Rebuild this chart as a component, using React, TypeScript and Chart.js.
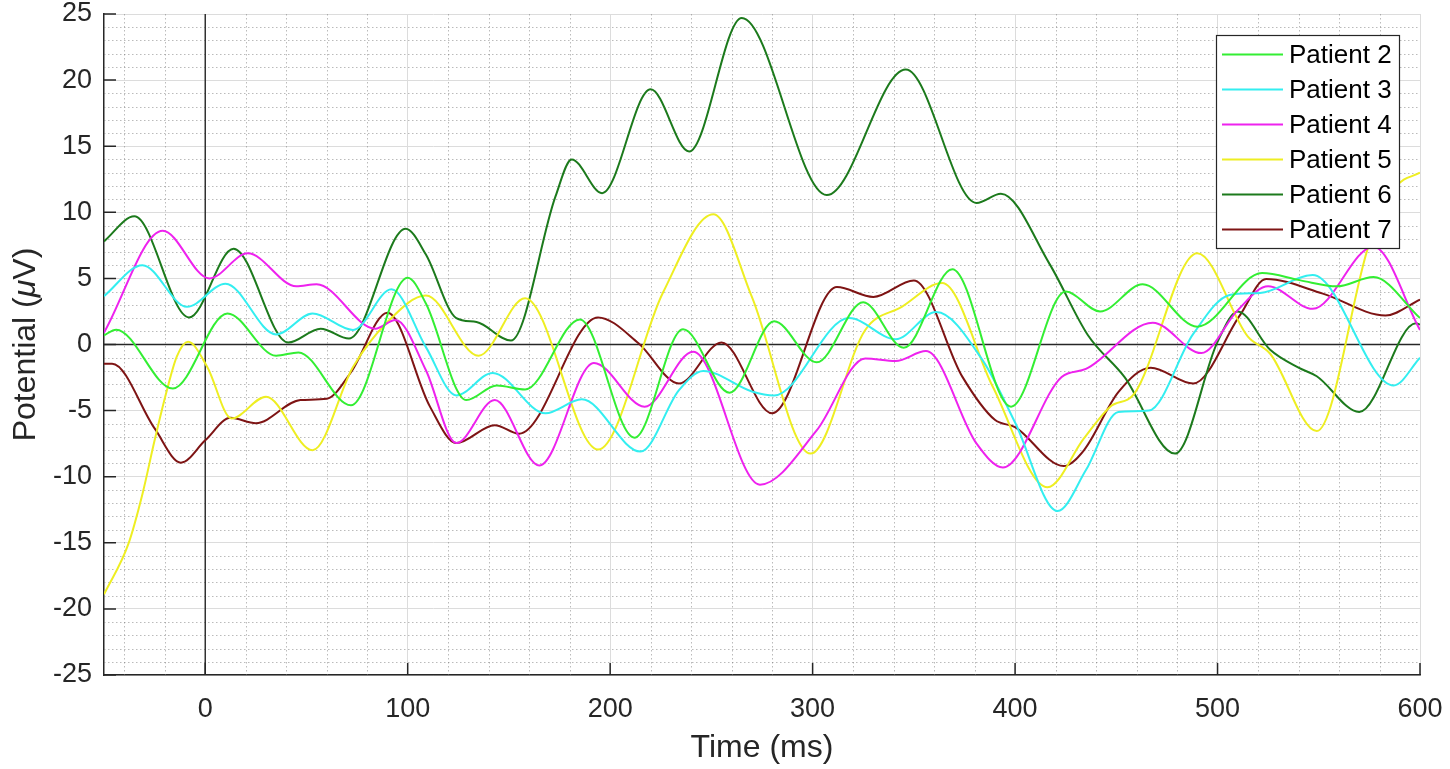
import React, { useEffect, useRef } from "react";
import { Chart, registerables } from "chart.js";

Chart.register(...registerables);

const FONT = '"Liberation Sans", Arial, Helvetica, sans-serif';

const seriesLabels = ["Patient 2", "Patient 3", "Patient 4", "Patient 5", "Patient 6", "Patient 7"];
const seriesColors = ["#33ee33", "#33eef0", "#ee22ee", "#eeee22", "#1c7a1c", "#7e1414"];

const xTicks = [0, 100, 200, 300, 400, 500, 600];
const X_MIN = -50;
const X_MAX = 600;
const Y_MIN = -25;
const Y_MAX = 25;
const Y_STEP = 5;
const X_MINOR_STEP = 20;
const Y_MINOR_STEP = 1;
const xTitle = "Time (ms)";
const yTitleParts = [
  { text: "Potential (", italic: false },
  { text: "μ", italic: true },
  { text: "V)", italic: false },
];

// [time (ms), potential (µV)]
const patient2: [number, number][] = [
  [-50, 0.7], [-44, 1.12], [-16, -3.33], [11, 2.35], [35, -0.85], [46, -0.6], [72, -4.6], [100, 5.05],
  [109, 3.1], [129, -4.2], [144, -3.1], [158, -3.4], [185, 1.9], [212, -7.05], [236, 1.15], [259, -3.65],
  [281, 1.75], [302, -1.35], [325, 3.2], [345, -0.25], [369, 5.7], [398, -4.7], [425, 4.0], [442, 2.5],
  [463, 4.55], [490, 1.35], [522, 5.4], [541, 4.85], [559, 4.4], [577, 5.1], [600, 2.0],
];

const patient3: [number, number][] = [
  [-50, 3.66], [-31, 6.0], [-9, 2.85], [10, 4.6], [35, 0.76], [53, 2.35], [73, 1.1], [92, 4.17],
  [109, -0.2], [124, -3.85], [142, -2.15], [168, -5.2], [186, -4.15], [215, -8.1], [234, -3.45], [246, -2.0],
  [270, -3.55], [281, -3.85], [318, 2.0], [341, 0.4], [361, 2.45], [384, -1.2], [400, -5.9], [421, -12.6],
  [435, -9.5], [451, -5.1], [466, -5.0], [488, 0.8], [506, 3.75], [521, 3.9], [547, 5.25], [587, -3.1], [600, -1.0],
];

const patient4: [number, number][] = [
  [-50, 0.9], [-21, 8.6], [2, 5.0], [21, 6.9], [45, 4.4], [55, 4.55], [84, 1.2], [94, 1.85],
  [109, -1.95], [124, -7.45], [143, -4.2], [165, -9.15], [192, -1.4], [217, -4.7], [241, -0.55], [274, -10.6],
  [302, -6.5], [326, -1.05], [341, -1.25], [356, -0.5], [381, -7.5], [394, -9.3], [423, -2.45], [435, -1.85],
  [468, 1.65], [492, -0.65], [510, 2.6], [525, 4.4], [547, 2.7], [577, 7.4], [600, 1.1],
];

const patient5: [number, number][] = [
  [-50, -18.9], [-38, -15.1], [-31, -11.3], [-25, -7.25], [-19, -3.5], [-14, -0.9], [-8.5, 0.2], [1, -1.7],
  [13, -5.6], [30, -3.95], [53, -8.0], [73, -1.7], [90, 1.7], [109, 3.7], [135, -0.85], [158, 3.5],
  [194, -7.95], [226, 3.9], [251, 9.85], [270, 3.6], [299, -8.25], [326, 1.1], [344, 2.85], [364, 4.65],
  [389, -3.2], [416, -10.8], [434, -7.1], [447, -4.7], [459, -3.7], [490, 6.9], [515, 0.6], [526, -0.7],
  [549, -6.55], [575, 7.65], [588, 11.9], [600, 13.0],
];

const patient6: [number, number][] = [
  [-50, 7.8], [-35, 9.7], [-8, 2.05], [14, 7.25], [41, 0.15], [57, 1.2], [71, 0.45], [99, 8.75],
  [109, 6.8], [124, 2.0], [134, 1.7], [151, 0.3], [173, 11.2], [181, 14.0], [196, 11.45], [220, 19.3],
  [239, 14.6], [265, 24.7], [307, 11.3], [346, 20.8], [381, 10.7], [393, 11.4], [417, 6.1], [436, 0.7],
  [454, -2.45], [479, -8.25], [500, 0.2], [510, 2.5], [526, -0.4], [540, -1.75], [549, -2.4], [570, -5.1],
  [598, 1.6], [600, 1.5],
];

const patient7: [number, number][] = [
  [-50, -1.45], [-46, -1.45], [-25, -6.35], [-12, -8.94], [0, -7.25], [12.5, -5.55], [25, -5.95], [47, -4.2],
  [60, -4.1], [72, -2.1], [90, 2.4], [111, -4.7], [124, -7.45], [143, -6.1], [155, -6.75], [194, 2.05],
  [214, 0.1], [234, -2.95], [255, 0.15], [280, -5.2], [312, 4.35], [330, 3.6], [350, 4.85], [374, -2.45],
  [390, -5.7], [400, -6.25], [424, -9.2], [434, -8.0], [451, -3.6], [467, -1.75], [488, -2.95], [511, 2.2],
  [524, 4.95], [552, 3.85], [583, 2.2], [600, 3.4],
];

const allSeries = [patient2, patient3, patient4, patient5, patient6, patient7];

const gridPlugin = {
  id: "matlabGrid",
  beforeDatasetsDraw(chart: any) {
    const { ctx, chartArea, scales } = chart;
    const { left, right, top, bottom } = chartArea;
    const x = scales.x;
    const y = scales.y;
    ctx.save();
    ctx.strokeStyle = "rgba(120,120,120,0.5)";
    ctx.lineWidth = 1;
    ctx.setLineDash([1.5, 2.5]);
    for (let t = X_MIN + 10; t < X_MAX; t += X_MINOR_STEP) {
      if (t % 100 === 0) continue;
      const px = Math.round(x.getPixelForValue(t)) + 0.5;
      ctx.beginPath();
      ctx.moveTo(px, top);
      ctx.lineTo(px, bottom);
      ctx.stroke();
    }
    for (let v = Y_MIN + Y_MINOR_STEP; v < Y_MAX; v += Y_MINOR_STEP) {
      if (v % Y_STEP === 0) continue;
      const py = Math.round(y.getPixelForValue(v)) + 0.5;
      ctx.beginPath();
      ctx.moveTo(left, py);
      ctx.lineTo(right, py);
      ctx.stroke();
    }
    ctx.setLineDash([]);
    ctx.strokeStyle = "#262626";
    ctx.lineWidth = 1.4;
    const x0 = x.getPixelForValue(0);
    const y0 = y.getPixelForValue(0);
    ctx.beginPath();
    ctx.moveTo(x0, top);
    ctx.lineTo(x0, bottom);
    ctx.moveTo(left, y0);
    ctx.lineTo(right, y0);
    ctx.stroke();
    ctx.restore();
  },
  afterDraw(chart: any) {
    const { ctx, chartArea, scales } = chart;
    const { left, right, top, bottom } = chartArea;
    const x = scales.x;
    const y = scales.y;
    ctx.save();
    ctx.strokeStyle = "#262626";
    ctx.lineWidth = 1.5;
    ctx.beginPath();
    y.ticks.forEach((tk: any) => {
      const py = y.getPixelForValue(tk.value);
      ctx.moveTo(left, py);
      ctx.lineTo(left + 12, py);
    });
    xTicks.forEach((v) => {
      const px = x.getPixelForValue(v);
      ctx.moveTo(px, bottom);
      ctx.lineTo(px, bottom - 12);
    });
    ctx.stroke();
    ctx.restore();

    // y-axis title with italic mu
    ctx.save();
    const normal = `32px ${FONT}`;
    const italic = `italic 32px ${FONT}`;
    let total = 0;
    const widths = yTitleParts.map((p) => {
      ctx.font = p.italic ? italic : normal;
      const w = ctx.measureText(p.text).width;
      total += w;
      return w;
    });
    ctx.translate(26, (top + bottom) / 2);
    ctx.rotate(-Math.PI / 2);
    ctx.fillStyle = "#262626";
    ctx.textBaseline = "middle";
    ctx.textAlign = "left";
    let cx = -total / 2;
    yTitleParts.forEach((p, i) => {
      ctx.font = p.italic ? italic : normal;
      ctx.fillText(p.text, cx, 0);
      cx += widths[i];
    });
    ctx.restore();

    // legend
    ctx.save();
    const boxW = 183;
    const boxH = 213;
    const bx = right - 204;
    const by = top + 21;
    ctx.fillStyle = "#ffffff";
    ctx.fillRect(bx, by, boxW, boxH);
    ctx.strokeStyle = "#262626";
    ctx.lineWidth = 1.2;
    ctx.strokeRect(bx + 0.5, by + 0.5, boxW, boxH);
    ctx.font = `26px ${FONT}`;
    ctx.textBaseline = "middle";
    ctx.textAlign = "left";
    chart.data.datasets.forEach((ds: any, i: number) => {
      const cy = by + 19.5 + i * 35;
      ctx.strokeStyle = ds.borderColor;
      ctx.lineWidth = 2;
      ctx.beginPath();
      ctx.moveTo(bx + 6, cy);
      ctx.lineTo(bx + 67, cy);
      ctx.stroke();
      ctx.fillStyle = "#000000";
      ctx.fillText(ds.label, bx + 73, cy + 1);
    });
    ctx.restore();
  },
};

export default function App() {
  const ref = useRef<HTMLCanvasElement>(null);
  useEffect(() => {
    const canvas = ref.current;
    if (!canvas) return;
    const chart = new Chart(canvas, {
      type: "line",
      data: {
        datasets: allSeries.map((pts, i) => ({
          label: seriesLabels[i],
          data: pts.map(([t, v]) => ({ x: t, y: v })),
          borderColor: seriesColors[i],
          backgroundColor: seriesColors[i],
          borderWidth: 2,
          pointRadius: 0,
          fill: false,
          cubicInterpolationMode: "monotone",
        })),
      },
      options: {
        animation: false,
        responsive: false,
        layout: { padding: { top: 14, right: 30, bottom: 0, left: 0 } },
        plugins: { legend: { display: false }, tooltip: { enabled: false } },
        scales: {
          x: {
            type: "linear",
            min: X_MIN,
            max: X_MAX,
            afterBuildTicks: (s: any) => {
              s.ticks = xTicks.map((v) => ({ value: v }));
            },
            afterFit: (s: any) => {
              s.height = 94;
              s.paddingLeft = 0;
              s.paddingRight = 0;
            },
            grid: { color: "#dcdcdc", lineWidth: 1, drawTicks: false },
            border: { color: "#262626", width: 1.5 },
            ticks: {
              color: "#262626",
              font: { family: FONT, size: 27, lineHeight: 1 },
              padding: 21,
              maxRotation: 0,
              autoSkip: false,
            },
            title: {
              display: true,
              text: xTitle,
              color: "#262626",
              font: { family: FONT, size: 32, lineHeight: 1 },
              padding: { top: 0, bottom: 5 },
            },
          },
          y: {
            type: "linear",
            min: Y_MIN,
            max: Y_MAX,
            afterFit: (s: any) => {
              s.width = 104;
              s.paddingTop = 0;
              s.paddingBottom = 0;
            },
            grid: { color: "#dcdcdc", lineWidth: 1, drawTicks: false },
            border: { color: "#262626", width: 1.5 },
            ticks: {
              stepSize: Y_STEP,
              color: "#262626",
              font: { family: FONT, size: 27, lineHeight: 1 },
              padding: 12,
            },
          },
        },
      },
      plugins: [gridPlugin],
    } as any);
    return () => chart.destroy();
  }, []);
  return (
    <div style={{ position: "fixed", left: 0, top: 0, width: 1450, height: 769, background: "#ffffff" }}>
      <canvas ref={ref} width={1450} height={769} style={{ display: "block" }} />
    </div>
  );
}
